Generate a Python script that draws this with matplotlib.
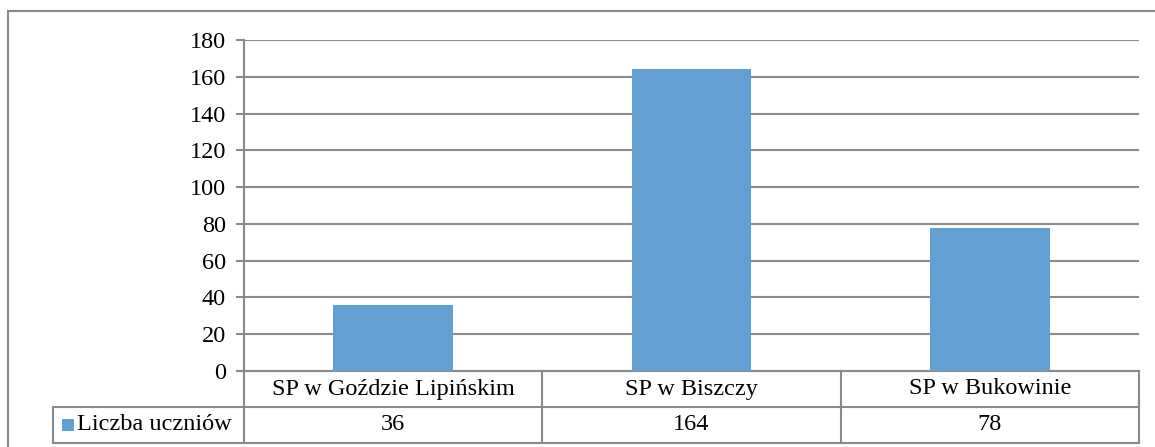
import matplotlib
matplotlib.use("Agg")
import matplotlib.pyplot as plt
from matplotlib.patches import Rectangle
from matplotlib.lines import Line2D
import matplotlib.transforms as mtransforms

categories = ["SP w Goździe Lipińskim", "SP w Biszczy", "SP w Bukowinie"]
values = [36, 164, 78]
series_name = "Liczba uczniów"
yticks = [0, 20, 40, 60, 80, 100, 120, 140, 160, 180]

BAR = "#629fd3"
GRID = "#8a8a8a"
FONT = "Liberation Serif"
FS = 17.5
LW = 1.5

W, H = 1155, 447
fig = plt.figure(figsize=(W / 100, H / 100), dpi=100)
fig.patch.set_facecolor("white")

# outer chart border (right/bottom run off the image)
fig.add_artist(Rectangle((8 / W, -10 / H), (1170 - 8) / W, (H - 11 + 10) / H,
                         transform=fig.transFigure, fill=False,
                         edgecolor=GRID, linewidth=LW))

x0, x1, ytop, ybot = 244, 1139, 40, 371
ax = fig.add_axes([x0 / W, (H - ybot) / H, (x1 - x0) / W, (ybot - ytop) / H])
n = len(categories)
xs = list(range(n))
ax.bar(xs, values, width=0.4, color=BAR, zorder=3)
ax.set_xlim(-0.5, n - 0.5)
ax.set_ylim(0, 180)
ax.set_yticks(yticks)
ax.set_yticklabels([str(v) for v in yticks], fontfamily=FONT, fontsize=FS)
ax.yaxis.grid(True, color=GRID, linewidth=LW, zorder=0)
ax.set_xticks([])
for s in ["top", "right", "bottom"]:
    ax.spines[s].set_visible(False)
ax.spines["left"].set_color(GRID)
ax.spines["left"].set_linewidth(LW)
ax.tick_params(axis="y", length=6, width=LW, color=GRID, pad=7, labelcolor="black")

# data table below the axes (x in data coords, y in axes coords)
tr = mtransforms.blended_transform_factory(ax.transData, ax.transAxes)
ph = ybot - ytop
unit = (x1 - x0) / n
y_r1 = 0.0
y_r2 = -36 / ph
y_r3 = -72 / ph
left_leg = -0.5 - (x0 - 53) / unit

def hline(xa, xb, y):
    ax.add_line(Line2D([xa, xb], [y, y], transform=tr, color=GRID, lw=LW, clip_on=False))

def vline(x, ya, yb):
    ax.add_line(Line2D([x, x], [ya, yb], transform=tr, color=GRID, lw=LW, clip_on=False))

hline(-0.5 - 6 / unit, n - 0.5, y_r1)
hline(left_leg, n - 0.5, y_r2)
hline(left_leg, n - 0.5, y_r3)
for i in range(n + 1):
    vline(i - 0.5, y_r1, y_r3)
vline(left_leg, y_r2, y_r3)

for i, (c, v) in enumerate(zip(categories, values)):
    ax.text(i, (y_r1 + y_r2) / 2, c, transform=tr, ha="center", va="center",
            fontfamily=FONT, fontsize=FS)
    ax.text(i, (y_r2 + y_r3) / 2, str(v), transform=tr, ha="center", va="center",
            fontfamily=FONT, fontsize=FS)

# legend key in table
kx = left_leg + 9 / unit
ax.add_patch(Rectangle((kx, (y_r2 + y_r3) / 2 - 6 / ph), 12 / unit, 12 / ph,
                       transform=tr, facecolor=BAR, edgecolor="none", clip_on=False))
ax.text(kx + 15 / unit, (y_r2 + y_r3) / 2, series_name, transform=tr, ha="left", va="center",
        fontfamily=FONT, fontsize=FS)

fig.savefig("out.png", dpi=100, facecolor="white")
